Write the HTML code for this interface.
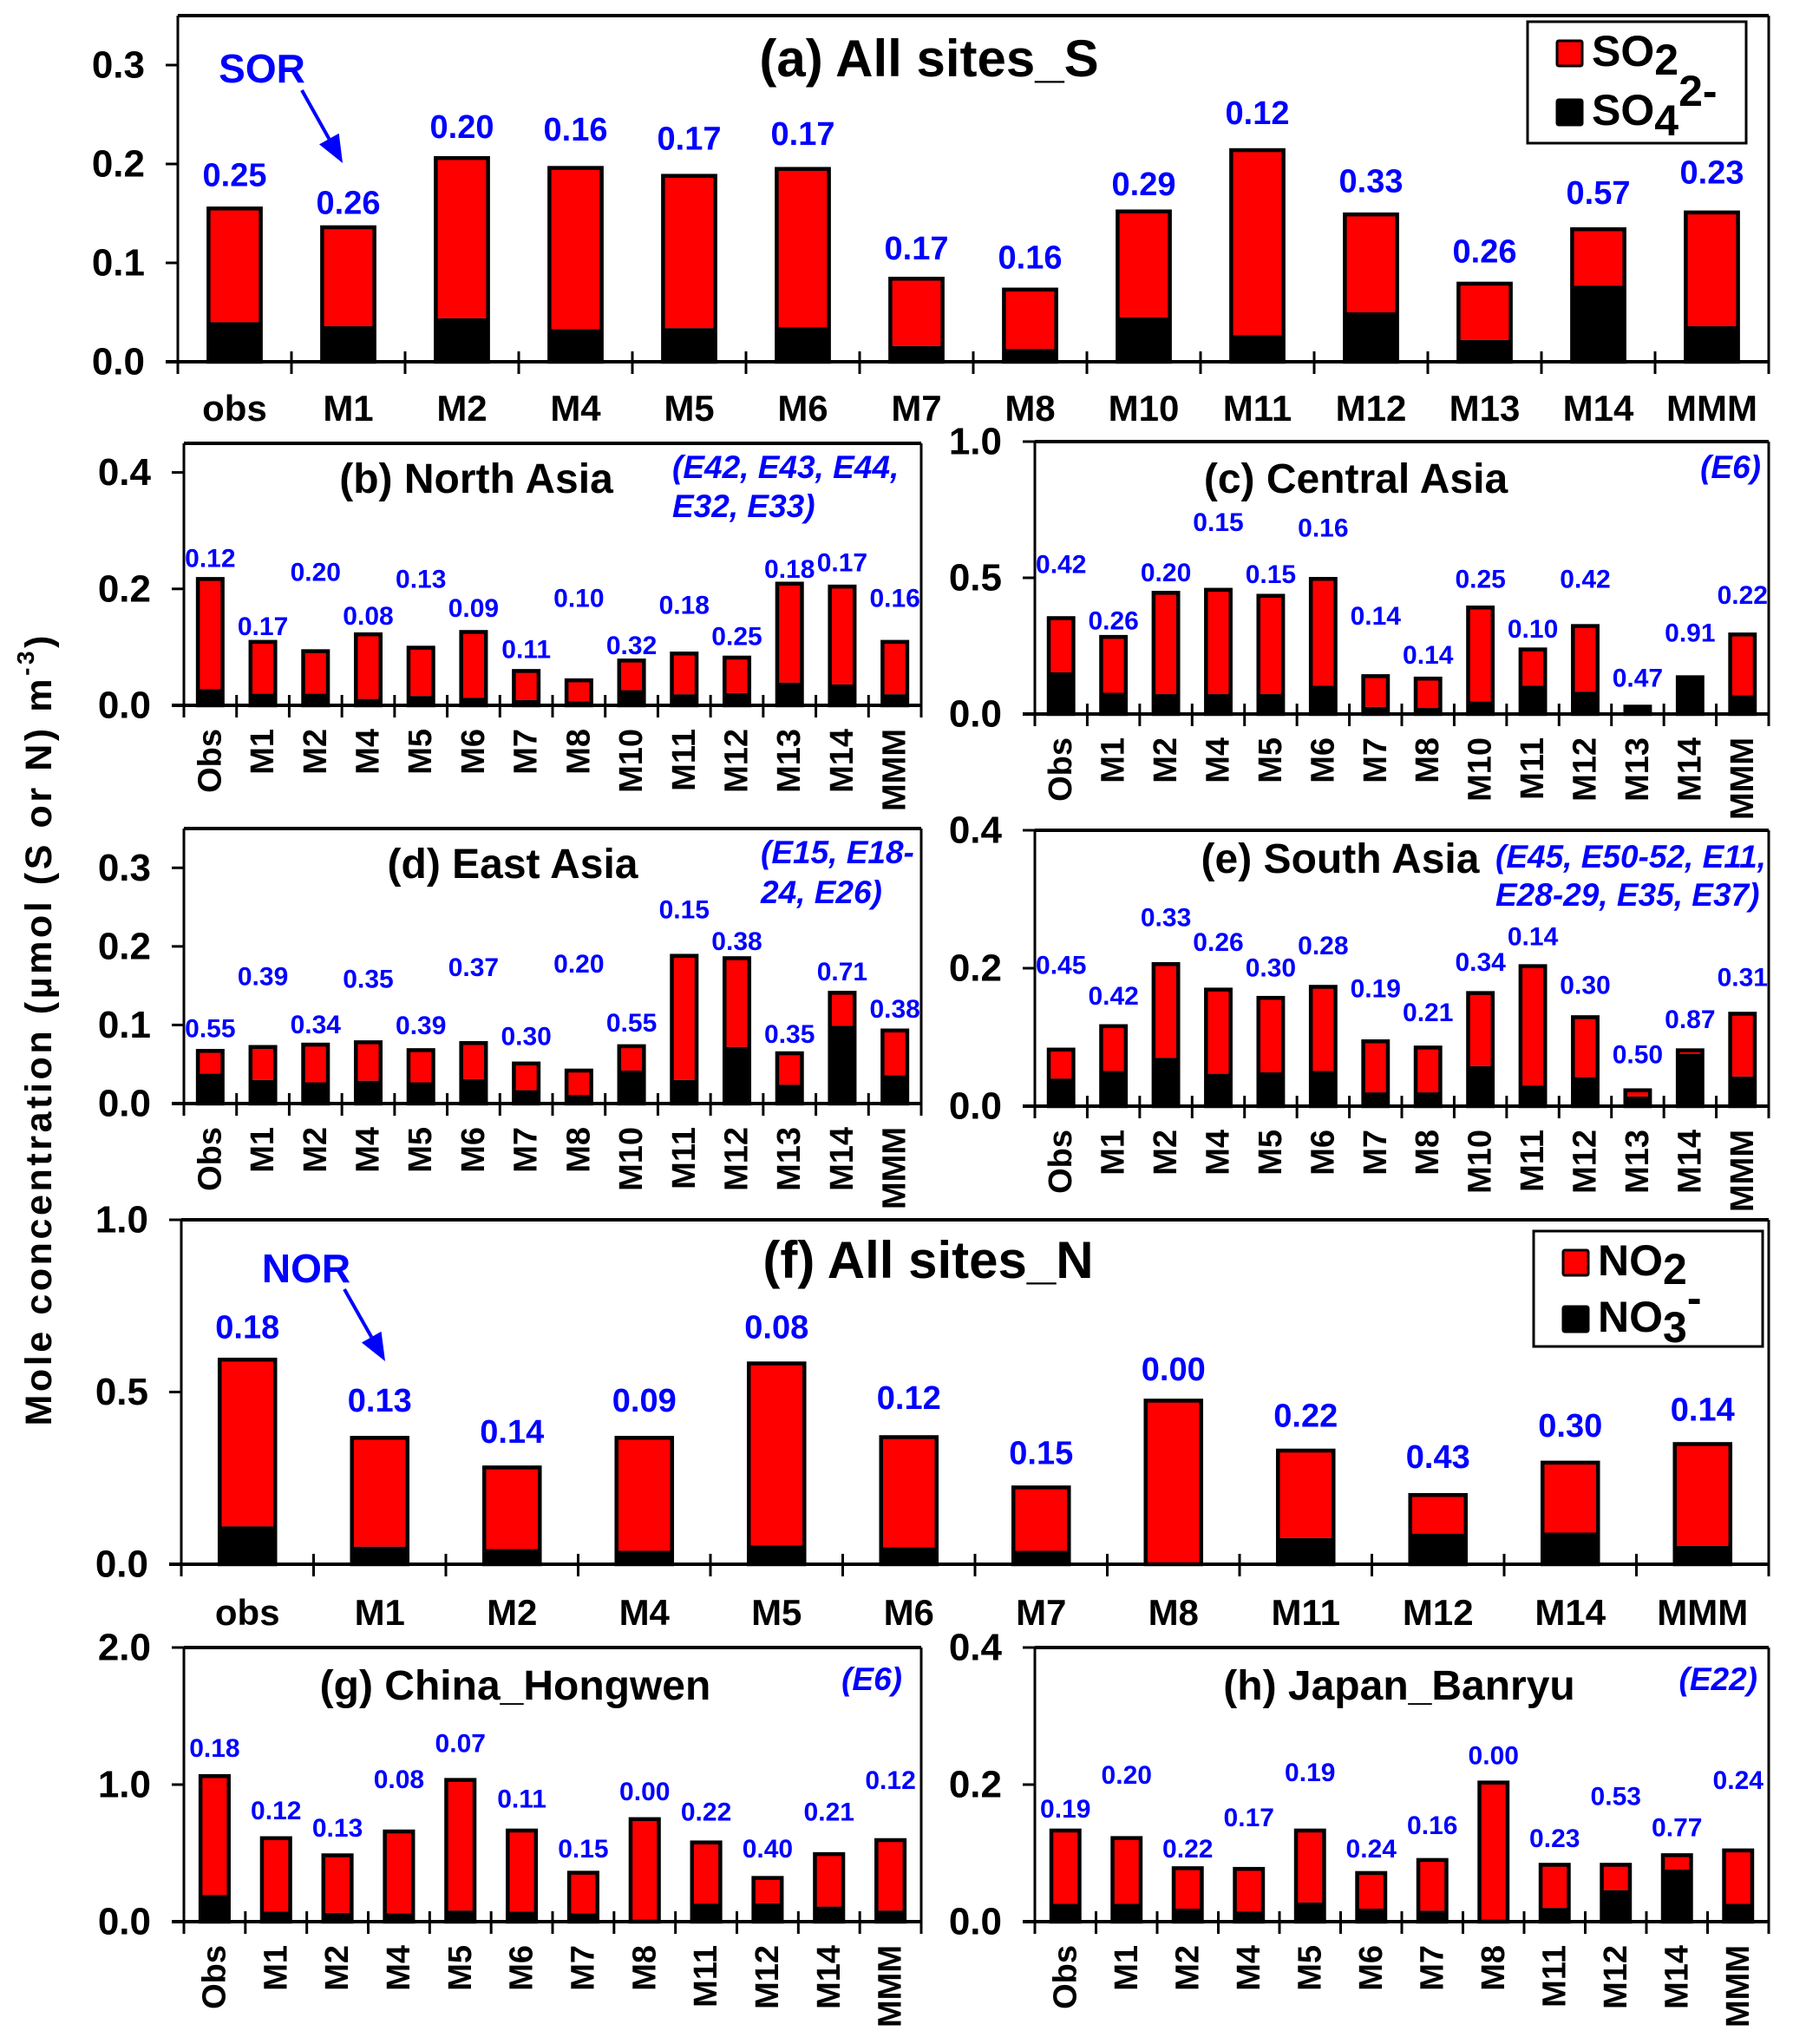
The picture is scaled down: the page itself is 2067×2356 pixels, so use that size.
<!DOCTYPE html>
<html><head><meta charset="utf-8"><style>
html,body{margin:0;padding:0;background:#fff}
svg{display:block;font-family:"Liberation Sans",Arial,sans-serif}
</style></head><body>
<svg id="fig" width="2067" height="2356" viewBox="0 0 2067 2356">
<text transform="translate(45,1188) rotate(-90)" text-anchor="middle" dominant-baseline="central" font-size="43" font-weight="bold" textLength="911" lengthAdjust="spacing">Mole concentration (µmol (S or N) m<tspan baseline-shift="super" font-size="28">-3</tspan>)</text>
</svg>
<script>
// ---- data ----
const aCats=["obs","M1","M2","M4","M5","M6","M7","M8","M10","M11","M12","M13","M14","MMM"];
const aTotal=[0.155,0.136,0.206,0.196,0.188,0.195,0.084,0.073,0.152,0.214,0.149,0.079,0.134,0.151];
const aSec=[0.040,0.036,0.044,0.033,0.034,0.035,0.016,0.013,0.045,0.027,0.050,0.022,0.077,0.036];
const aRatio=["0.25","0.26","0.20","0.16","0.17","0.17","0.17","0.16","0.29","0.12","0.33","0.26","0.57","0.23"];
const aLabelAt=[0.188,0.160,0.237,0.234,0.225,0.230,0.114,0.105,0.179,0.251,0.182,0.111,0.170,0.191];

const rCats=["Obs","M1","M2","M4","M5","M6","M7","M8","M10","M11","M12","M13","M14","MMM"];
const bTotal=[0.217,0.109,0.093,0.122,0.099,0.126,0.059,0.043,0.077,0.089,0.082,0.209,0.204,0.109];
const bSec=[0.028,0.020,0.020,0.011,0.016,0.013,0.009,0.007,0.026,0.019,0.021,0.039,0.036,0.019];
const bRatio=["0.12","0.17","0.20","0.08","0.13","0.09","0.11","0.10","0.32","0.18","0.25","0.18","0.17","0.16"];
const bLabelAt=[0.252,0.135,0.228,0.153,0.216,0.166,0.095,0.183,0.102,0.171,0.118,0.233,0.244,0.183];

const cTotal=[0.352,0.283,0.445,0.456,0.434,0.496,0.139,0.130,0.391,0.237,0.323,0.027,0.135,0.292];
const cSec=[0.153,0.078,0.073,0.073,0.073,0.104,0.026,0.022,0.046,0.104,0.082,0.027,0.135,0.069];
const cRatio=["0.42","0.26","0.20","0.15","0.15","0.16","0.14","0.14","0.25","0.10","0.42","0.47","0.91","0.22"];
const cLabelAt=[0.547,0.341,0.518,0.703,0.511,0.681,0.359,0.215,0.493,0.310,0.493,0.131,0.296,0.434];

const dTotal=[0.067,0.072,0.075,0.078,0.068,0.077,0.051,0.042,0.073,0.188,0.185,0.064,0.141,0.093];
const dSec=[0.038,0.030,0.027,0.029,0.027,0.031,0.017,0.011,0.042,0.030,0.072,0.024,0.099,0.036];
const dRatio=["0.55","0.39","0.34","0.35","0.39","0.37","0.30","0.20","0.55","0.15","0.38","0.35","0.71","0.38"];
const dLabelAt=[0.095,0.161,0.100,0.158,0.099,0.173,0.085,0.177,0.102,0.246,0.206,0.088,0.167,0.120];

const eTotal=[0.082,0.116,0.206,0.169,0.157,0.173,0.094,0.085,0.164,0.203,0.129,0.023,0.081,0.134];
const eSec=[0.040,0.051,0.070,0.047,0.049,0.051,0.020,0.020,0.058,0.030,0.042,0.014,0.076,0.043];
const eRatio=["0.45","0.42","0.33","0.26","0.30","0.28","0.19","0.21","0.34","0.14","0.30","0.50","0.87","0.31"];
const eLabelAt=[0.204,0.159,0.273,0.237,0.200,0.232,0.170,0.135,0.208,0.245,0.175,0.074,0.125,0.186];

const fCats=["obs","M1","M2","M4","M5","M6","M7","M8","M11","M12","M14","MMM"];
const fTotal=[0.594,0.367,0.281,0.367,0.583,0.369,0.223,0.475,0.330,0.201,0.295,0.349];
const fSec=[0.110,0.051,0.044,0.039,0.055,0.049,0.039,0.000,0.076,0.089,0.092,0.053];
const fRatio=["0.18","0.13","0.14","0.09","0.08","0.12","0.15","0.00","0.22","0.43","0.30","0.14"];
const fLabelAt=[0.686,0.474,0.383,0.474,0.686,0.481,0.321,0.564,0.430,0.310,0.401,0.447];

const gCats=["Obs","M1","M2","M4","M5","M6","M7","M8","M11","M12","M14","MMM"];
const gTotal=[1.062,0.609,0.484,0.658,1.034,0.665,0.357,0.748,0.578,0.319,0.493,0.595];
const gSec=[0.195,0.074,0.064,0.060,0.081,0.074,0.060,0.000,0.132,0.134,0.110,0.081];
const gRatio=["0.18","0.12","0.13","0.08","0.07","0.11","0.15","0.00","0.22","0.40","0.21","0.12"];
const gLabelAt=[1.264,0.807,0.680,1.036,1.296,0.893,0.527,0.946,0.796,0.527,0.796,1.030];

const hTotal=[0.133,0.122,0.078,0.077,0.133,0.071,0.090,0.203,0.083,0.083,0.097,0.104];
const hSec=[0.026,0.026,0.019,0.015,0.028,0.019,0.016,0.000,0.020,0.046,0.076,0.026];
const hRatio=["0.19","0.20","0.22","0.17","0.19","0.24","0.16","0.00","0.23","0.53","0.77","0.24"];
const hLabelAt=[0.164,0.213,0.106,0.151,0.217,0.106,0.140,0.242,0.121,0.182,0.137,0.206];

const aTicks=["0.0","0.1","0.2","0.3"];
const bTicks=["0.0","0.2","0.4"];
const cTicks=["0.0","0.5","1.0"];
const dTicks=["0.0","0.1","0.2","0.3"];
const eTicks=["0.0","0.2","0.4"];
const fTicks=["0.0","0.5","1.0"];
const gTicks=["0.0","1.0","2.0"];
const hTicks=["0.0","0.2","0.4"];

// ---- drawing ----
const NS="http://www.w3.org/2000/svg";
const svg=document.getElementById('fig');
function mk(tag,attrs,parent){const e=document.createElementNS(NS,tag);for(const k in attrs)e.setAttribute(k,attrs[k]);(parent||svg).appendChild(e);return e;}

function panel(id,cfg,cats,total,sec,ratio,labelAt,ticks){
  const g=mk('g',{});
  
  
  const L=cfg.L,R=cfg.R,T=cfg.T,B=cfg.B,max=cfg.max;
  const y=v=>B-(v/max)*(B-T);
  const slot=(R-L)/cats.length;
  const xc=i=>L+slot*(i+0.5);
  mk('line',{x1:L,y1:T,x2:R,y2:T,stroke:'#000','stroke-width':4},g);
  mk('line',{x1:L,y1:T,x2:L,y2:B,stroke:'#000','stroke-width':3},g);
  mk('line',{x1:R,y1:T,x2:R,y2:B,stroke:'#000','stroke-width':3},g);
  ticks.forEach(t=>{
    const v=parseFloat(t),yy=y(v);
    mk('line',{x1:L-14,y1:yy,x2:L,y2:yy,stroke:'#000','stroke-width':3},g);
    const tx=mk('text',{x:L-38,y:yy,'text-anchor':'end','dominant-baseline':'central','font-size':cfg.tickFont||44,'font-weight':'bold'},g);
    
    
    tx.textContent=t;
  });
  const bw=slot*cfg.bw;
  cats.forEach((c,i)=>{
    const x=xc(i)-bw/2;
    const top=y(total[i]),mid=y(sec[i]);
    const r1=mk('rect',{x:x,y:top,width:bw,height:Math.max(0,mid-top),fill:'#ff0000'},g);
    
    
    const r2=mk('rect',{x:x,y:mid,width:bw,height:Math.max(0,B-mid),fill:'#000'},g);
    
    
    mk('rect',{x:x,y:top,width:bw,height:B-top,fill:'none',stroke:'#000','stroke-width':4.5},g);
    const lt=mk('text',{x:xc(i),y:y(labelAt[i]),'text-anchor':'middle','dominant-baseline':'central','font-size':cfg.lblFont,'font-weight':'bold',fill:'#0000ff'},g);
    
    
    lt.textContent=ratio[i];
    let ct;
    if(cfg.rot){
      ct=mk('text',{x:xc(i),y:B+27,'text-anchor':'end','dominant-baseline':'central','font-size':38,'font-weight':'bold',transform:'rotate(-90 '+xc(i)+' '+(B+27)+')'},g);
    }else{
      ct=mk('text',{x:xc(i),y:cfg.catY,'text-anchor':'middle','font-size':42,'font-weight':'bold'},g);
    }
    
    
    ct.textContent=c;
  });
  mk('line',{x1:L-14,y1:B,x2:R,y2:B,stroke:'#000','stroke-width':4},g);
  for(let i=0;i<=cats.length;i++){
    const xx=L+slot*i;
    mk('line',{x1:xx,y1:B-12,x2:xx,y2:B+14,stroke:'#000','stroke-width':3},g);
  }
  const tt=mk('text',{x:cfg.tx,y:cfg.ty,'text-anchor':'middle','font-size':cfg.tf,'font-weight':'bold'},g);
  
  
  tt.textContent=cfg.title;
  if(cfg.sites){
    cfg.sites.forEach((s,k)=>{
      const st=mk('text',{x:cfg.sx,y:cfg.sy[k],'text-anchor':cfg.sa||'start','font-size':37,'font-weight':'bold','font-style':'italic',fill:'#0000ff'},g);
      
      
      st.textContent=s;
    });
  }
}

panel('a',{L:205,R:2039,T:18,B:417,max:0.35,bw:0.46,lblFont:38,catY:485,title:'(a) All sites_S',tx:1071,ty:88,tf:60},aCats,aTotal,aSec,aRatio,aLabelAt,aTicks);
panel('b',{L:212,R:1062,T:511,B:813,max:0.45,bw:0.47,lblFont:30,rot:true,title:'(b) North Asia',tx:549,ty:568,tf:48,sites:['(E42, E43, E44,','E32, E33)'],sx:775,sy:[551,596]},rCats,bTotal,bSec,bRatio,bLabelAt,bTicks);
panel('c',{L:1193,R:2039,T:509,B:823,max:1.0,bw:0.47,lblFont:30,rot:true,title:'(c) Central Asia',tx:1563,ty:568,tf:48,sites:['(E6)'],sx:2030,sa:'end',sy:[551]},rCats,cTotal,cSec,cRatio,cLabelAt,cTicks);
panel('d',{L:212,R:1062,T:955,B:1272,max:0.35,bw:0.47,lblFont:30,rot:true,title:'(d) East Asia',tx:591,ty:1012,tf:48,sites:['(E15, E18-','24, E26)'],sx:877,sy:[995,1041]},rCats,dTotal,dSec,dRatio,dLabelAt,dTicks);
panel('e',{L:1193,R:2039,T:957,B:1275,max:0.4,bw:0.47,lblFont:30,rot:true,title:'(e) South Asia',tx:1545,ty:1006,tf:48,sites:['(E45, E50-52, E11,','E28-29, E35, E37)'],sx:1724,sy:[1000,1044]},rCats,eTotal,eSec,eRatio,eLabelAt,eTicks);
panel('f',{L:209,R:2039,T:1406,B:1803,max:1.0,bw:0.42,lblFont:38,catY:1873,title:'(f) All sites_N',tx:1070,ty:1473,tf:60},fCats,fTotal,fSec,fRatio,fLabelAt,fTicks);
panel('g',{L:212,R:1062,T:1899,B:2215,max:2.0,bw:0.46,lblFont:30,rot:true,title:'(g) China_Hongwen',tx:594,ty:1959,tf:48,sites:['(E6)'],sx:1040,sa:'end',sy:[1948]},gCats,gTotal,gSec,gRatio,gLabelAt,gTicks);
panel('h',{L:1193,R:2039,T:1899,B:2215,max:0.4,bw:0.46,lblFont:30,rot:true,title:'(h) Japan_Banryu',tx:1613,ty:1959,tf:48,sites:['(E22)'],sx:2026,sa:'end',sy:[1948]},gCats,hTotal,hSec,hRatio,hLabelAt,hTicks);

function legend(name,x1,y1,x2,y2,rows){
  const g=mk('g',{});
  
  
  mk('rect',{x:x1,y:y1,width:x2-x1,height:y2-y1,fill:'#fff',stroke:'#000','stroke-width':3},g);
  rows.forEach(r=>{
    mk('rect',{x:x1+34,y:r.by-29,width:29,height:29,fill:r.color,stroke:'#000','stroke-width':3,rx:2},g);
    const t=mk('text',{x:x1+74,y:r.by,'font-size':50,'font-weight':'bold'},g);
    
    
    t.innerHTML=r.html;
  });
}
legend('legend-s',1761,25,2013,165,[
  {key:'so2',color:'#ff0000',by:76,html:'SO<tspan baseline-shift="-10">2</tspan>'},
  {key:'so4',color:'#000',by:144,html:'SO<tspan baseline-shift="-12">4</tspan><tspan baseline-shift="22">2-</tspan>'}]);
legend('legend-n',1768,1419,2032,1552,[
  {key:'no2',color:'#ff0000',by:1470,html:'NO<tspan baseline-shift="-10">2</tspan>'},
  {key:'no3',color:'#000',by:1535,html:'NO<tspan baseline-shift="-12">3</tspan><tspan baseline-shift="22">-</tspan>'}]);

function arrow(name,label,tx,ty,x1,y1,x2,y2){
  const g=mk('g',{});
  
  
  const t=mk('text',{x:tx,y:ty,'text-anchor':'middle','font-size':46,'font-weight':'bold',fill:'#0000ff'},g);
  t.textContent=label;
  const ang=Math.atan2(y2-y1,x2-x1),hl=32,hw=13;
  const bx=x2-hl*Math.cos(ang),by=y2-hl*Math.sin(ang);
  mk('line',{x1:x1,y1:y1,x2:bx,y2:by,stroke:'#0000ff','stroke-width':4},g);
  const px=-Math.sin(ang)*hw,py=Math.cos(ang)*hw;
  mk('polygon',{points:`${x2},${y2} ${bx+px},${by+py} ${bx-px},${by-py}`,fill:'#0000ff'},g);
}
arrow('sor-annotation','SOR',302,95,348,104,395,188);
arrow('nor-annotation','NOR',353,1478,397,1486,444,1569);
</script>
</body></html>
